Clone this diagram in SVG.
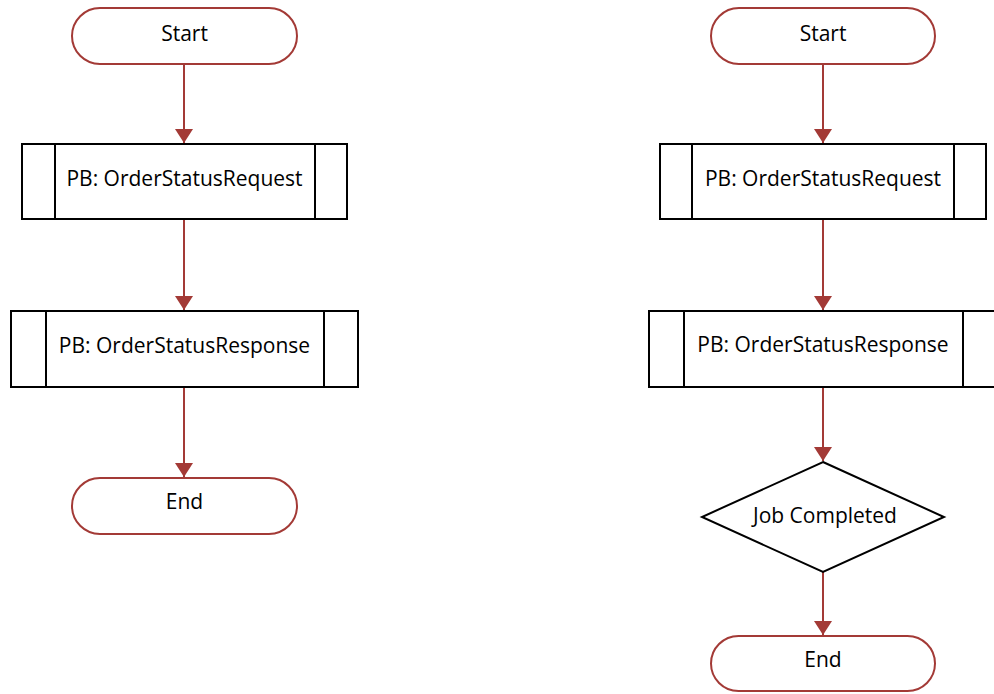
<svg xmlns="http://www.w3.org/2000/svg" width="994" height="694" viewBox="0 0 994 694">
<style>
.term{fill:#fff;stroke:#a33a36;stroke-width:2}
.box{fill:#fff;stroke:#000;stroke-width:2}
.ln{fill:none;stroke:#000;stroke-width:2}
.con{fill:none;stroke:#a33a36;stroke-width:2}
.t{font-family:"Open Sans","Noto Sans",sans-serif;font-size:21px;fill:#000;text-anchor:middle;dominant-baseline:central}
</style>
<defs>
<marker id="ah" markerWidth="14" markerHeight="18" refX="14" refY="9" orient="auto" markerUnits="userSpaceOnUse" viewBox="0 0 14 18">
<path d="M0,0 L14,9 L0,18 Z" fill="#a33a36"/>
</marker>
</defs>
<rect width="994" height="694" fill="#fff"/>
<g id="connectors">
<line class="con" x1="184" y1="64" x2="184" y2="143" marker-end="url(#ah)"/>
<line class="con" x1="184" y1="219" x2="184" y2="310" marker-end="url(#ah)"/>
<line class="con" x1="184" y1="387" x2="184" y2="477" marker-end="url(#ah)"/>
<line class="con" x1="823" y1="64" x2="823" y2="143" marker-end="url(#ah)"/>
<line class="con" x1="823" y1="219" x2="823" y2="310" marker-end="url(#ah)"/>
<line class="con" x1="823" y1="387" x2="823" y2="461" marker-end="url(#ah)"/>
<line class="con" x1="823" y1="572" x2="823" y2="635" marker-end="url(#ah)"/>
</g>
<g id="start1"><rect class="term" x="72" y="8" width="225" height="56" rx="28"/><text class="t" x="184.5" y="33">Start</text></g>
<g id="req1"><rect class="box" x="22" y="144" width="325" height="75"/><line class="ln" x1="55" y1="144" x2="55" y2="219"/><line class="ln" x1="315" y1="144" x2="315" y2="219"/><text class="t" x="184.5" y="178">PB: OrderStatusRequest</text></g>
<g id="resp1"><rect class="box" x="11" y="311" width="347" height="76"/><line class="ln" x1="46" y1="311" x2="46" y2="387"/><line class="ln" x1="324" y1="311" x2="324" y2="387"/><text class="t" x="184.5" y="345">PB: OrderStatusResponse</text></g>
<g id="end1"><rect class="term" x="72" y="478" width="225" height="56" rx="28"/><text class="t" x="184.5" y="501">End</text></g>
<g id="start2"><rect class="term" x="711" y="8" width="224" height="56" rx="28"/><text class="t" x="823" y="33">Start</text></g>
<g id="req2"><rect class="box" x="660" y="144" width="326" height="75"/><line class="ln" x1="692" y1="144" x2="692" y2="219"/><line class="ln" x1="954" y1="144" x2="954" y2="219"/><text class="t" x="823" y="178">PB: OrderStatusRequest</text></g>
<g id="resp2"><rect class="box" x="649" y="311" width="348" height="76"/><line class="ln" x1="684" y1="311" x2="684" y2="387"/><line class="ln" x1="963" y1="311" x2="963" y2="387"/><text class="t" x="823" y="344">PB: OrderStatusResponse</text></g>
<g id="job"><polygon class="box" points="823,462 944,517 823,572 702,517"/><text class="t" x="825" y="515">Job Completed</text></g>
<g id="end2"><rect class="term" x="711" y="636" width="224" height="55" rx="27.5"/><text class="t" x="823" y="659">End</text></g>
</svg>
